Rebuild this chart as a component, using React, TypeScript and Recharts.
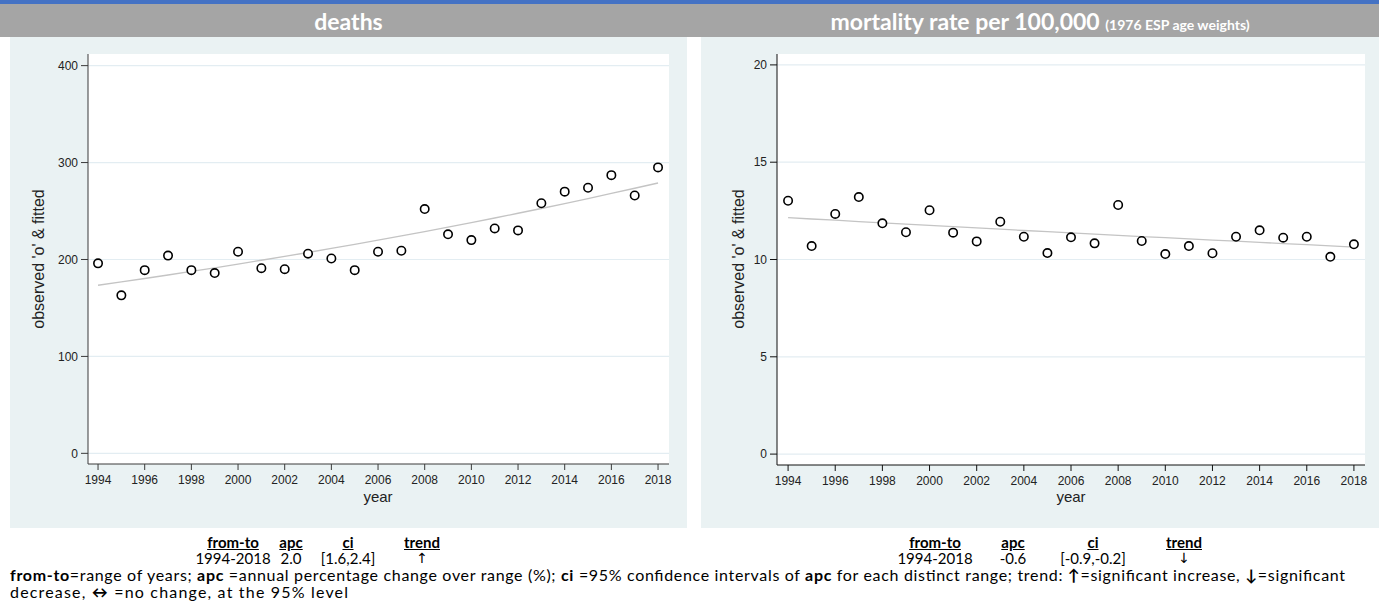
import React from 'react';
import { ComposedChart, Scatter, Line, XAxis, YAxis, CartesianGrid } from 'recharts';

const years = [1994, 1995, 1996, 1997, 1998, 1999, 2000, 2001, 2002, 2003, 2004, 2005, 2006, 2007, 2008, 2009, 2010, 2011, 2012, 2013, 2014, 2015, 2016, 2017, 2018];
const deathsObserved = [196, 163, 189, 204, 189, 186, 208, 191, 190, 206, 201, 189, 208, 209, 252, 226, 220, 232, 230, 258, 270, 274, 287, 266, 295];
const deathsFitted = [173.4, 176.9, 180.4, 184.0, 187.7, 191.4, 195.3, 199.2, 203.2, 207.2, 211.4, 215.6, 219.9, 224.3, 228.8, 233.4, 238.1, 242.8, 247.7, 252.6, 257.7, 262.8, 268.1, 273.5, 278.9];
const rateObserved = [13.02, 10.69, 12.34, 13.21, 11.86, 11.4, 12.53, 11.38, 10.93, 11.94, 11.17, 10.33, 11.14, 10.83, 12.8, 10.95, 10.28, 10.69, 10.32, 11.17, 11.5, 11.12, 11.17, 10.14, 10.78];
const rateFitted = [12.15, 12.08, 12.02, 11.95, 11.88, 11.82, 11.75, 11.69, 11.62, 11.56, 11.49, 11.43, 11.37, 11.3, 11.24, 11.18, 11.12, 11.06, 11.0, 10.94, 10.88, 10.82, 10.76, 10.7, 10.64];
const yearTicks = [1994, 1996, 1998, 2000, 2002, 2004, 2006, 2008, 2010, 2012, 2014, 2016, 2018];
const deathsTicks = [0, 100, 200, 300, 400];
const rateTicks = [0, 5, 10, 15, 20];

const tableHeaders = ['from-to', 'apc', 'ci', 'trend'];
const deathsRow = ['1994-2018', '2.0', '[1.6,2.4]', '\u2191'];
const rateRow = ['1994-2018', '-0.6', '[-0.9,-0.2]', '\u2193'];

const deathsData = years.map((y, i) => ({ year: y, obs: deathsObserved[i], fit: deathsFitted[i] }));
const rateData = years.map((y, i) => ({ year: y, obs: rateObserved[i], fit: rateFitted[i] }));

const PANEL_BG = '#eaf2f3';
const AXIS_FONT = '"Liberation Sans", Arial, sans-serif';
const TEXT_FONT = 'Lato, "Open Sans", sans-serif';

const Dot = (props: any) => {
  const { cx, cy } = props;
  if (cx == null || cy == null) return null;
  return <circle cx={cx} cy={cy} r={4.2} fill="#ffffff" stroke="#000000" strokeWidth={1.6} />;
};

type ChartProps = {
  left: number;
  width: number;
  data: any[];
  yTicks: number[];
  yDomain: [number, number];
  xDomain: [number, number];
  mLeft: number;
  mRight: number;
  mBottom: number;
  axisColor: string;
};

function Chart({ left, width, data, yTicks, yDomain, xDomain, mLeft, mRight, mBottom, axisColor }: ChartProps) {
  return (
    <div style={{ position: 'absolute', left, top: 37, width, height: 491 }}>
      <ComposedChart width={width} height={491} data={data} margin={{ top: 17, right: mRight, bottom: mBottom, left: mLeft }}>
        <CartesianGrid vertical={false} horizontal={true} stroke="#e3edf2" strokeWidth={1.2} fill="#ffffff" horizontalValues={yTicks} />
        <XAxis
          type="number"
          dataKey="year"
          domain={xDomain}
          ticks={yearTicks}
          allowDataOverflow
          height={30}
          tickSize={6}
          tickMargin={5}
          stroke={axisColor}
          tick={{ fill: '#222', fontSize: 12, fontFamily: AXIS_FONT }}
          interval={0}
        />
        <YAxis
          type="number"
          domain={yDomain}
          ticks={yTicks}
          allowDataOverflow
          width={50}
          tickSize={7}
          tickMargin={3}
          stroke={axisColor}
          tick={{ fill: '#222', fontSize: 12, fontFamily: AXIS_FONT }}
          interval={0}
        />
        <Line type="linear" dataKey="fit" stroke="#c4c4c4" strokeWidth={1.3} dot={false} activeDot={false} isAnimationActive={false} />
        <Scatter dataKey="obs" shape={Dot} isAnimationActive={false} />
      </ComposedChart>
    </div>
  );
}

function Table({ row, colX }: { row: string[]; colX: number[] }) {
  return (
    <>
      {tableHeaders.map((h, i) => (
        <div key={'h' + i} style={{ position: 'absolute', left: colX[i] - 60, width: 120, top: 533, textAlign: 'center', fontFamily: TEXT_FONT, fontWeight: 700, fontSize: 15, textDecoration: 'underline', color: '#000', lineHeight: '18px' }}>{h}</div>
      ))}
      {row.map((h, i) => (
        <div key={'r' + i} style={{ position: 'absolute', left: colX[i] - 60, width: 120, top: 549, textAlign: 'center', fontFamily: i === 3 ? '"DejaVu Sans", sans-serif' : TEXT_FONT, fontSize: i === 3 ? 14 : 15, color: '#000', lineHeight: '18px' }}>{h}</div>
      ))}
    </>
  );
}

export default function App() {
  return (
    <div style={{ position: 'absolute', left: 0, top: 0, width: 1379, height: 616, background: '#ffffff', overflow: 'hidden' }}>
      <div style={{ position: 'absolute', left: 0, top: 0, width: 1379, height: 4, background: '#4472c4' }} />
      <div style={{ position: 'absolute', left: 0, top: 4, width: 1379, height: 33, background: '#a5a5a5' }} />
      <div style={{ position: 'absolute', left: 10, top: 4, width: 677, height: 33, textAlign: 'center', color: '#fff', fontFamily: TEXT_FONT, fontWeight: 700, fontSize: 23, lineHeight: '34px' }}>deaths</div>
      <div style={{ position: 'absolute', left: 701, top: 4, width: 678, height: 33, textAlign: 'center', color: '#fff', fontFamily: TEXT_FONT, fontWeight: 700, fontSize: 23, lineHeight: '34px', whiteSpace: 'nowrap' }}>
        mortality rate per 100,000 <span style={{ fontSize: 14 }}>(1976 ESP age weights)</span>
      </div>

      <div style={{ position: 'absolute', left: 10, top: 37, width: 677, height: 491, background: PANEL_BG }} />
      <div style={{ position: 'absolute', left: 701, top: 37, width: 678, height: 491, background: PANEL_BG }} />

      <Chart left={10} width={677} data={deathsData} yTicks={deathsTicks} yDomain={[-11, 412]} xDomain={[1993.57, 2018.47]} mLeft={28} mRight={18} mBottom={34} axisColor="#3a3a3a" />
      <Chart left={701} width={678} data={rateData} yTicks={rateTicks} yDomain={[-0.56, 20.56]} xDomain={[1993.53, 2018.47]} mLeft={26} mRight={14} mBottom={33} axisColor="#111" />

      <div style={{ position: 'absolute', left: 39 - 100, top: 259 - 10, width: 200, height: 20, textAlign: 'center', transform: 'rotate(-90deg)', fontFamily: AXIS_FONT, fontSize: 16, color: '#222', lineHeight: '20px', whiteSpace: 'nowrap' }}>observed 'o' &amp; fitted</div>
      <div style={{ position: 'absolute', left: 739 - 100, top: 259 - 10, width: 200, height: 20, textAlign: 'center', transform: 'rotate(-90deg)', fontFamily: AXIS_FONT, fontSize: 16, color: '#222', lineHeight: '20px', whiteSpace: 'nowrap' }}>observed 'o' &amp; fitted</div>
      <div style={{ position: 'absolute', left: 378 - 50, top: 488, width: 100, textAlign: 'center', fontFamily: AXIS_FONT, fontSize: 15, color: '#222', lineHeight: '17px' }}>year</div>
      <div style={{ position: 'absolute', left: 1071 - 50, top: 488, width: 100, textAlign: 'center', fontFamily: AXIS_FONT, fontSize: 15, color: '#222', lineHeight: '17px' }}>year</div>

      <Table row={deathsRow} colX={[233, 291, 348, 422]} />
      <Table row={rateRow} colX={[935, 1013, 1093, 1184]} />

      <svg style={{ position: 'absolute', left: 0, top: 560 }} width={1379} height={56}>
        <text x={10} y={21} fontFamily={TEXT_FONT} fontSize={16} fill="#000" textLength={1335} lengthAdjust="spacing">
          <tspan fontWeight={700}>from-to</tspan>
          <tspan>=range of years; </tspan>
          <tspan fontWeight={700}>apc</tspan>
          <tspan> =annual percentage change over range (%); </tspan>
          <tspan fontWeight={700}>ci</tspan>
          <tspan> =95% confidence intervals of </tspan>
          <tspan fontWeight={700}>apc</tspan>
          <tspan> for each distinct range; trend: </tspan>
          <tspan fontWeight={700}>{'\u2191'}</tspan>
          <tspan>=significant increase, </tspan>
          <tspan fontWeight={700}>{'\u2193'}</tspan>
          <tspan>=significant</tspan>
        </text>
        <text x={10} y={38} fontFamily={TEXT_FONT} fontSize={16} fill="#000" textLength={338} lengthAdjust="spacing">
          <tspan>decrease, </tspan>
          <tspan fontWeight={700}>{'\u2194'}</tspan>
          <tspan> =no change, at the 95% level</tspan>
        </text>
      </svg>
    </div>
  );
}
